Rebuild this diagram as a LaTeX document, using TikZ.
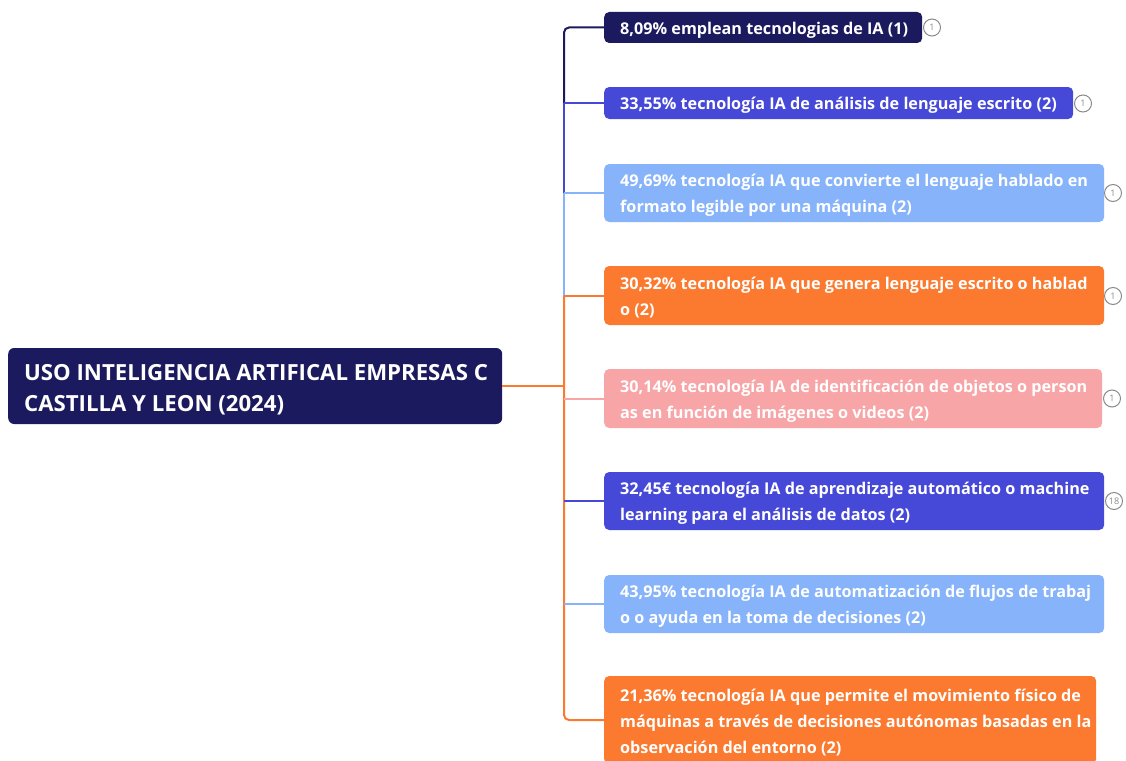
\documentclass[tikz,border=0pt]{standalone}
\usepackage{fontspec}
\setmainfont{Open Sans}
\definecolor{cNavy}{HTML}{1C1A5E}
\definecolor{cBlue}{HTML}{4649D8}
\definecolor{cLight}{HTML}{86B3F9}
\definecolor{cOrange}{HTML}{FB7A2F}
\definecolor{cPink}{HTML}{F8A5A8}
\definecolor{cGray}{HTML}{8A8A8A}
\newcommand{\boxline}[2]{\makebox[#1][l]{\raisebox{-2.5pt}[\height][\depth]{#2}}}
\newcommand{\rootline}[1]{\makebox[462pt][l]{\raisebox{-3.5pt}[\height][\depth]{#1}}}
\tikzset{
  box/.style={anchor=west, rounded corners=5pt, text=white,
    font=\bfseries\fontsize{16.2}{26}\selectfont, inner xsep=16pt, inner ysep=0pt, align=left},
  rootbox/.style={anchor=west, rounded corners=6pt, text=white, fill=cNavy,
    font=\bfseries\fontsize{22.2}{31}\selectfont, inner xsep=16pt, inner ysep=0pt, align=left, minimum height=76pt},
  info/.style={circle, draw=cGray, line width=1pt, fill=white, minimum size=17pt, inner sep=0pt,
    font=\fontsize{9}{9}\selectfont, text=cGray},
  link/.style={line width=2pt},
}
\begin{document}
\begin{tikzpicture}[x=1pt,y=-1pt]
\fill[white] (0,0) rectangle (1126,760);
\useasboundingbox (0,0) rectangle (1126,760);

\node[rootbox] (root) at (8,386) {\rootline{USO INTELIGENCIA ARTIFICAL EMPRESAS C}\\\rootline{CASTILLA Y LEON (2024)}};

\node[box, fill=cNavy, minimum height=31pt] (n1) at (604,27.5) {\boxline{286pt}{8,09\% emplean tecnologias de IA (1)}};
\node[box, fill=cBlue, minimum height=32pt] (n2) at (604,103) {\boxline{437pt}{33,55\% tecnología IA de análisis de lenguaje escrito (2)}};
\node[box, fill=cLight, minimum height=58pt] (n3) at (604,193) {\boxline{468pt}{49,69\% tecnología IA que convierte el lenguaje hablado en}\\\boxline{468pt}{formato legible por una máquina (2)}};
\node[box, fill=cOrange, minimum height=59pt] (n4) at (604,295.5) {\boxline{468pt}{30,32\% tecnología IA que genera lenguaje escrito o hablad}\\\boxline{468pt}{o (2)}};
\node[box, fill=cPink, minimum height=59pt] (n5) at (604,398.5) {\boxline{466pt}{30,14\% tecnología IA de identificación de objetos o person}\\\boxline{466pt}{as en función de imágenes o videos (2)}};
\node[box, fill=cBlue, minimum height=58pt] (n6) at (604,501) {\boxline{468pt}{32,45€ tecnología IA de aprendizaje automático o machine}\\\boxline{468pt}{learning para el análisis de datos (2)}};
\node[box, fill=cLight, minimum height=58pt] (n7) at (604,604) {\boxline{468pt}{43,95\% tecnología IA de automatización de flujos de trabaj}\\\boxline{468pt}{o o ayuda en la toma de decisiones (2)}};
\node[box, fill=cOrange, minimum height=88pt] (n8) at (604,720) {\boxline{460pt}{21,36\% tecnología IA que permite el movimiento físico de}\\\boxline{460pt}{máquinas a través de decisiones autónomas basadas en la}\\\boxline{460pt}{observación del entorno (2)}};

\node[info] (i1) at (932,27.5) {1};
\node[info] (i2) at (1083,103.5) {1};
\node[info] (i3) at (1113,193) {1};
\node[info] (i4) at (1113,296) {1};
\node[info] (i5) at (1112,398.5) {1};
\node[info] (i6) at (1114,501) {18};

\coordinate (tx) at (564,0);
\coordinate (t2) at (tx |- n2.west);
\coordinate (t3) at (tx |- n3.west);
\coordinate (t4) at (tx |- n4.west);
\coordinate (t5) at (tx |- n5.west);
\coordinate (t6) at (tx |- n6.west);
\coordinate (t7) at (tx |- n7.west);
\coordinate (tr) at (tx |- root.east);

\draw[link, cNavy, rounded corners=5pt] (n1.west) -| (t2);
\draw[link, cBlue] (t2) -- (t3);
\draw[link, cBlue] (t2) -- (n2.west);
\draw[link, cLight] (t3) -- (t4);
\draw[link, cLight] (t3) -- (n3.west);
\draw[link, cOrange, rounded corners=5pt] (t4) |- (n8.west);
\draw[link, cOrange] (t4) -- (n4.west);
\draw[link, cOrange] (root.east) -- (tr);
\draw[link, cPink] (t5) -- (n5.west);
\draw[link, cBlue] (t6) -- (n6.west);
\draw[link, cLight] (t7) -- (n7.west);
\end{tikzpicture}
\end{document}
